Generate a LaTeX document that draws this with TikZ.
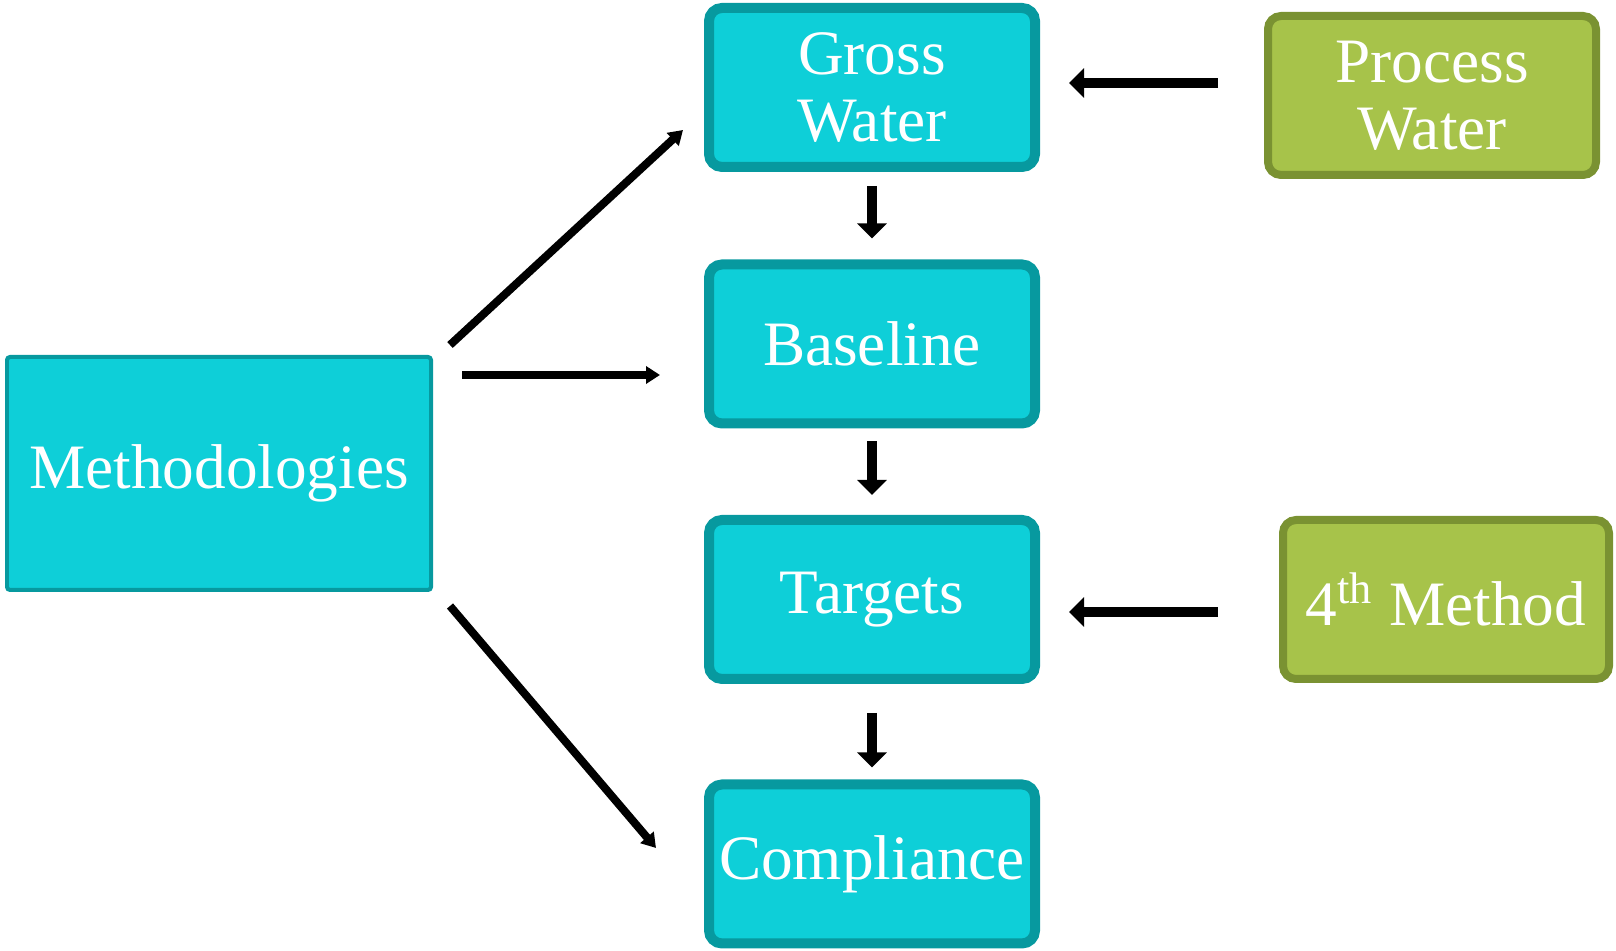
\documentclass[tikz,border=0pt]{standalone}
\usepackage{fontspec}
\setmainfont{Liberation Serif}
\usepackage{xcolor}
\usetikzlibrary{arrows.meta}
\definecolor{tealfill}{HTML}{0ECFD8}
\definecolor{tealline}{HTML}{07999F}
\definecolor{limefill}{HTML}{A7C34A}
\definecolor{limeline}{HTML}{7A9232}
\tikzset{
  stagebox/.style={draw=tealline, fill=tealfill, line width=0.1cm, rounded corners=0.13cm,
    minimum width=3.26cm, minimum height=1.59cm, text=white, align=center,
    font=\fontsize{18}{19}\selectfont, inner sep=0pt},
  inputbox/.style={stagebox, draw=limeline, fill=limefill, line width=0.08cm},
  bigflow/.style={line width=0.1cm, -{Triangle[width=0.29cm,length=0.15cm]}},
  thinflow/.style={line width=0.08cm, -{Triangle[width=0.17cm,length=0.14cm]}}
}
\begin{document}
\begin{tikzpicture}
        %FRAME
        \useasboundingbox (0,0) rectangle (16.16,-9.51);
        %BOXES
        \node[stagebox] (gross) at (8.72,-0.875) {Gross\\Water};
        \node[stagebox] (base) at (8.72,-3.44) {Baseline};
        \node[stagebox] (targets) at (8.72,-5.995) {Targets};
        \node[stagebox] (comply) at (8.72,-8.64) {Compliance};
        \node[inputbox, minimum width=3.28cm] (process) at (14.32,-0.955) {Process\\Water};
        \node[inputbox, minimum width=3.26cm] (fourth) at (14.46,-5.995) {4\textsuperscript{th} Method};
        \node[stagebox, line width=0.04cm, rounded corners=0.03cm,
              minimum width=4.24cm, minimum height=2.33cm] (meth) at (2.19,-4.735) {Methodologies};
        %ARROWS DOWN
        \draw[bigflow, shorten <=0.14cm, shorten >=0.21cm] (gross) -- (base);
        \draw[bigflow, shorten <=0.13cm, shorten >=0.2cm] (base) -- (targets);
        \draw[bigflow, shorten <=0.29cm, shorten >=0.12cm] (targets) -- (comply);
        %ARROWS IN
        \draw[bigflow, shorten <=0.46cm, shorten >=0.29cm] ([yshift=0.125cm]process.west) -- ([yshift=0.045cm]gross.east);
        \draw[bigflow, shorten <=0.61cm, shorten >=0.29cm] ([yshift=-0.125cm]fourth.west) -- ([yshift=-0.125cm]targets.east);
        %ARROWS OUT
        \draw[thinflow] ([xshift=0.17cm,yshift=0.1cm]meth.north east) -- ([xshift=-0.21cm,yshift=-0.425cm]gross.west);
        \draw[thinflow] ([xshift=0.29cm,yshift=-0.2cm]meth.north east) -- ([xshift=-0.44cm,yshift=-0.31cm]base.west);
        \draw[thinflow] ([xshift=0.17cm,yshift=-0.14cm]meth.south east) -- ([xshift=-0.48cm,yshift=0.16cm]comply.west);
\end{tikzpicture}
\end{document}
